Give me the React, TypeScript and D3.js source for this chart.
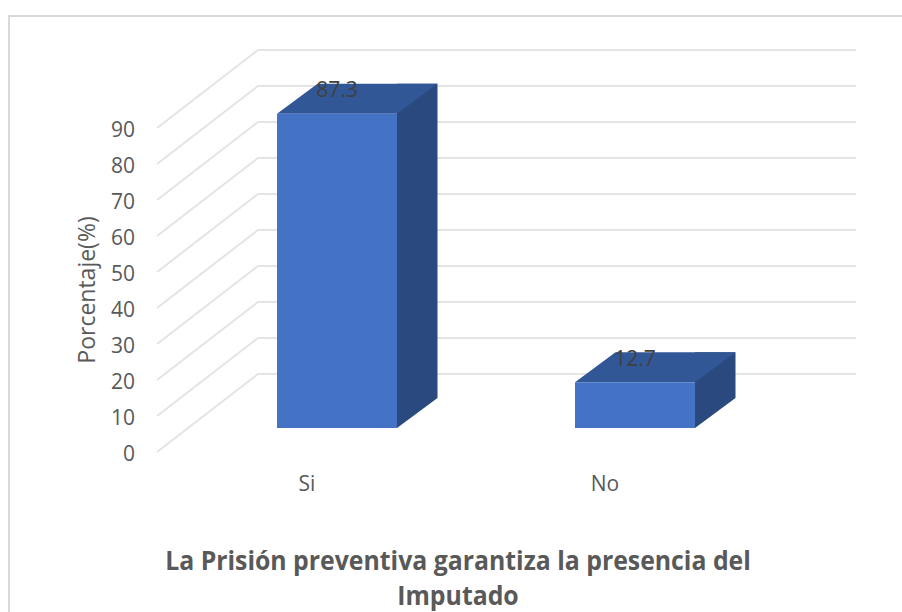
import * as d3 from "d3";

const categories = ["Si", "No"];
const values = [87.3, 12.7];
const yTicks = [0, 10, 20, 30, 40, 50, 60, 70, 80, 90];
const yLabel = "Porcentaje(%)";
const titleLines = ["La Prisión preventiva garantiza la presencia del", "Imputado"];

const width = 902;
const height = 612;

// 3D offsets of the floor and of the bars
const wallDepth = { x: 101, y: -78 };
const barDepth = { x: 40.5, y: -30 };
const barWidth = 120;
const barBase = 428;

const GRAY = "#595959";

export default function App() {
    // front plane of the axis: 0 at 452, 90 at 128
    const scaleY = d3.scaleLinear().domain([0, 90]).range([452, 128]);
    const scaleX = d3.scalePoint<string>().domain(categories).range([337, 635]);
    const barHeight = (v: number) => scaleY(0) - scaleY(v);

    const left = 157;
    const gridEnd = 856;

    const grid = d3.line();

    return (
        <svg
            width={width}
            height={height}
            style={{ position: "absolute", left: 0, top: 0, background: "#fff" }}
            fontFamily="'Open Sans', sans-serif"
        >
            <path d={`M9,612V16H902`} fill="none" stroke="#d9d9d9" strokeWidth={2} />

            {yTicks.map((t) => {
                const y = scaleY(t);
                const d = grid([
                    [left, y],
                    [left + wallDepth.x, y + wallDepth.y],
                    [gridEnd, y + wallDepth.y],
                ]);
                return <path key={t} d={d || undefined} fill="none" stroke="#e4e4e4" strokeWidth={2} />;
            })}

            {yTicks.map((t) => (
                <text key={t} x={135} y={scaleY(t) + 3.5} textAnchor="end" dominantBaseline="middle" fontSize={21} fill={GRAY}>
                    {t}
                </text>
            ))}

            <text
                transform="translate(89,290) rotate(-90)"
                textAnchor="middle"
                dominantBaseline="middle"
                fontSize={23}
                fill={GRAY}
            >
                {yLabel}
            </text>

            {categories.map((c, i) => {
                const x0 = (scaleX(c) || 0) - barWidth / 2;
                const x1 = x0 + barWidth;
                const h = barHeight(values[i]);
                const top = barBase - h;
                return (
                    <g key={c}>
                        <path
                            d={`M${x1},${barBase}L${x1 + barDepth.x},${barBase + barDepth.y}V${top + barDepth.y}H${x1}Z`}
                            fill="#2a4a7f"
                        />
                        <path
                            d={`M${x0},${top}L${x0 + barDepth.x},${top + barDepth.y}H${x1 + barDepth.x}L${x1},${top}Z`}
                            fill="#325796"
                        />
                        <rect x={x0} y={top} width={barWidth} height={h} fill="#4472c4" />
                        <text
                            x={scaleX(c)}
                            y={top - 22}
                            textAnchor="middle"
                            dominantBaseline="middle"
                            fontSize={21}
                            fill="#404040"
                        >
                            {values[i]}
                        </text>
                        <text
                            x={(scaleX(c) || 0) - 30}
                            y={485}
                            textAnchor="middle"
                            dominantBaseline="middle"
                            fontSize={21}
                            fill={GRAY}
                        >
                            {c}
                        </text>
                    </g>
                );
            })}

            {titleLines.map((line, i) => (
                <text
                    key={line}
                    transform={`translate(458,${570 + i * 35}) scale(0.955,1)`}
                    textAnchor="middle"
                    fontSize={26}
                    fontWeight={700}
                    fill={GRAY}
                >
                    {line}
                </text>
            ))}
        </svg>
    );
}
